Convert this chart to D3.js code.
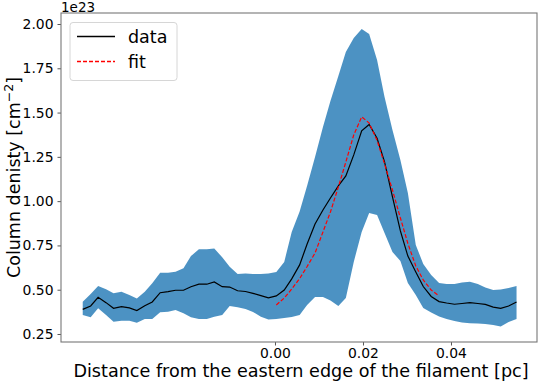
<!DOCTYPE html>
<html>
<head>
<meta charset="utf-8">
<script src="https://cdn.jsdelivr.net/npm/d3@7"></script>
<style>
  body { margin: 0; background: #fff; }
  svg { font-family: "DejaVu Sans", sans-serif; }
</style>
</head>
<body>
<div id="chart"></div>
<script>
// distance [pc] and column density [1e23 cm^-2]
var dist = [-0.0437,-0.0419,-0.0402,-0.0384,-0.0367,-0.0349,-0.0331,-0.0314,-0.0296,-0.0279,
  -0.0261,-0.0243,-0.0226,-0.0208,-0.0191,-0.0173,-0.0155,-0.0138,-0.0120,-0.0103,
  -0.0085,-0.0067,-0.0050,-0.0032,-0.0015,0.0003,0.0021,0.0038,0.0056,0.0073,
  0.0091,0.0109,0.0126,0.0144,0.0161,0.0179,0.0197,0.0214,0.0232,0.0249,
  0.0267,0.0285,0.0302,0.0320,0.0337,0.0355,0.0373,0.0390,0.0408,0.0425,
  0.0443,0.0461,0.0478,0.0496,0.0513,0.0531,0.0549];
var density = [0.389,0.408,0.457,0.427,0.395,0.404,0.397,0.382,0.410,0.431,
  0.483,0.489,0.497,0.497,0.517,0.531,0.531,0.544,0.517,0.515,
  0.494,0.490,0.479,0.467,0.454,0.465,0.498,0.561,0.640,0.758,
  0.871,0.950,1.018,1.086,1.142,1.261,1.397,1.433,1.355,1.221,
  1.024,0.832,0.690,0.600,0.518,0.462,0.433,0.425,0.418,0.422,
  0.427,0.422,0.417,0.402,0.395,0.408,0.431];
var upper = [0.432,0.476,0.521,0.502,0.480,0.489,0.470,0.451,0.489,0.536,
  0.596,0.596,0.602,0.621,0.690,0.728,0.728,0.733,0.683,0.630,
  0.589,0.592,0.589,0.589,0.592,0.600,0.657,0.826,0.941,1.087,
  1.249,1.418,1.566,1.707,1.842,1.921,1.972,1.944,1.797,1.588,
  1.402,1.232,1.046,0.753,0.645,0.583,0.538,0.532,0.532,0.541,
  0.545,0.532,0.513,0.498,0.501,0.510,0.521];
var lower = [0.357,0.344,0.395,0.357,0.319,0.325,0.325,0.314,0.335,0.335,
  0.373,0.376,0.386,0.367,0.344,0.335,0.335,0.348,0.357,0.408,
  0.401,0.391,0.374,0.348,0.332,0.335,0.340,0.346,0.357,0.414,
  0.459,0.459,0.439,0.408,0.453,0.657,0.826,0.933,0.922,0.820,
  0.713,0.662,0.538,0.470,0.397,0.371,0.349,0.335,0.323,0.315,
  0.310,0.309,0.306,0.301,0.292,0.318,0.335];
var fitDist = [0.0003,0.0021,0.0038,0.0056,0.0073,0.0091,0.0109,0.0126,0.0144,0.0161,
  0.0179,0.0197,0.0214,0.0232,0.0249,0.0267,0.0285,0.0302,0.0320,0.0337,
  0.0355,0.0373];
var fitDensity = [0.414,0.453,0.504,0.563,0.631,0.707,0.826,0.939,1.080,1.221,
  1.374,1.476,1.441,1.343,1.210,1.063,0.905,0.761,0.634,0.555,
  0.498,0.465];
var xTicks = [0, 0.02, 0.04];
var yTicks = [0.25, 0.5, 0.75, 1.0, 1.25, 1.5, 1.75, 2.0];

var W = 540, H = 382;
var pL = 61, pR = 537, pT = 13, pB = 342;

var svg = d3.select('#chart')
    .append('svg')
    .attr('width', W)
    .attr('height', H);

var x = d3.scaleLinear().domain([-0.04864, 0.05955]).range([pL, pR]);
var y = d3.scaleLinear().domain([0.2048, 2.0621]).range([pB, pT]);

var rows = dist.map(function(d, i) {
    return {x: d, y: density[i], lo: lower[i], hi: upper[i]};
});
var fitRows = fitDist.map(function(d, i) { return {x: d, y: fitDensity[i]}; });

var area = d3.area()
    .x(d => x(d.x))
    .y0(d => y(d.lo))
    .y1(d => y(d.hi));

svg.append('path')
    .datum(rows)
    .attr('d', area)
    .attr('fill', '#1f77b4')
    .attr('fill-opacity', 0.8);

var line = d3.line().x(d => x(d.x)).y(d => y(d.y));

svg.append('path')
    .datum(rows)
    .attr('d', line)
    .attr('fill', 'none')
    .attr('stroke', 'black')
    .attr('stroke-width', 1.2);

svg.append('path')
    .datum(fitRows)
    .attr('d', line)
    .attr('fill', 'none')
    .attr('stroke', 'red')
    .attr('stroke-width', 1.2)
    .attr('stroke-dasharray', '4,2');

// axes
var xAxis = svg.append('g')
    .attr('transform', 'translate(0,' + pB + ')')
    .call(d3.axisBottom(x).tickValues(xTicks).tickFormat(d3.format('.2f')).tickSizeOuter(0).tickSize(3.5).tickPadding(3));
var yAxis = svg.append('g')
    .attr('transform', 'translate(' + pL + ',0)')
    .call(d3.axisLeft(y).tickValues(yTicks).tickFormat(d3.format('.2f')).tickSizeOuter(0).tickSize(3.5).tickPadding(4));

[xAxis, yAxis].forEach(function(g) {
    g.select('.domain').remove();
    g.selectAll('line').attr('stroke', '#444').attr('stroke-width', 0.9);
    g.selectAll('text').attr('font-size', 13.9).attr('fill', '#000')
      .attr('font-family', '"DejaVu Sans", sans-serif');
});

// frame
svg.append('rect')
    .attr('x', pL).attr('y', pT)
    .attr('width', pR - pL).attr('height', pB - pT)
    .attr('fill', 'none')
    .attr('stroke', '#777')
    .attr('stroke-width', 1.1);

// offset text
svg.append('text')
    .attr('x', pL).attr('y', 12)
    .attr('font-size', 13.5)
    .text('1e23');

// axis labels
svg.append('text')
    .attr('x', (pL + pR) / 2 + 2)
    .attr('y', 377)
    .attr('text-anchor', 'middle')
    .attr('font-size', 17.6)
    .text('Distance from the eastern edge of the filament [pc]');

var ylab = svg.append('text')
    .attr('transform', 'translate(20,' + ((pT + pB) / 2) + ') rotate(-90)')
    .attr('text-anchor', 'middle')
    .attr('font-size', 17.5);
ylab.append('tspan').text('Column denisty [cm');
ylab.append('tspan').attr('font-size', 12.5).attr('dy', -7).text('\u22122');
ylab.append('tspan').attr('dy', 7).text(']');

// legend
var lg = svg.append('g');
lg.append('rect')
    .attr('x', 70).attr('y', 22.5)
    .attr('width', 107).attr('height', 58)
    .attr('rx', 3)
    .attr('fill', 'white').attr('fill-opacity', 0.8)
    .attr('stroke', '#d6d6d6');
var items = [{label: 'data', color: '#000000', dash: 'none'}, {label: 'fit', color: '#ff0000', dash: '4,2'}];
items.forEach(function(it, i) {
    var yy = 36.5 + i * 25;
    lg.append('line')
        .attr('x1', 77).attr('x2', 115)
        .attr('y1', yy).attr('y2', yy)
        .style('stroke', it.color)
        .style('stroke-width', 1.4)
        .style('stroke-dasharray', it.dash);
    lg.append('text')
        .attr('x', 128).attr('y', yy + 6.5)
        .attr('font-size', 17.5)
        .text(it.label);
});
</script>
</body>
</html>
